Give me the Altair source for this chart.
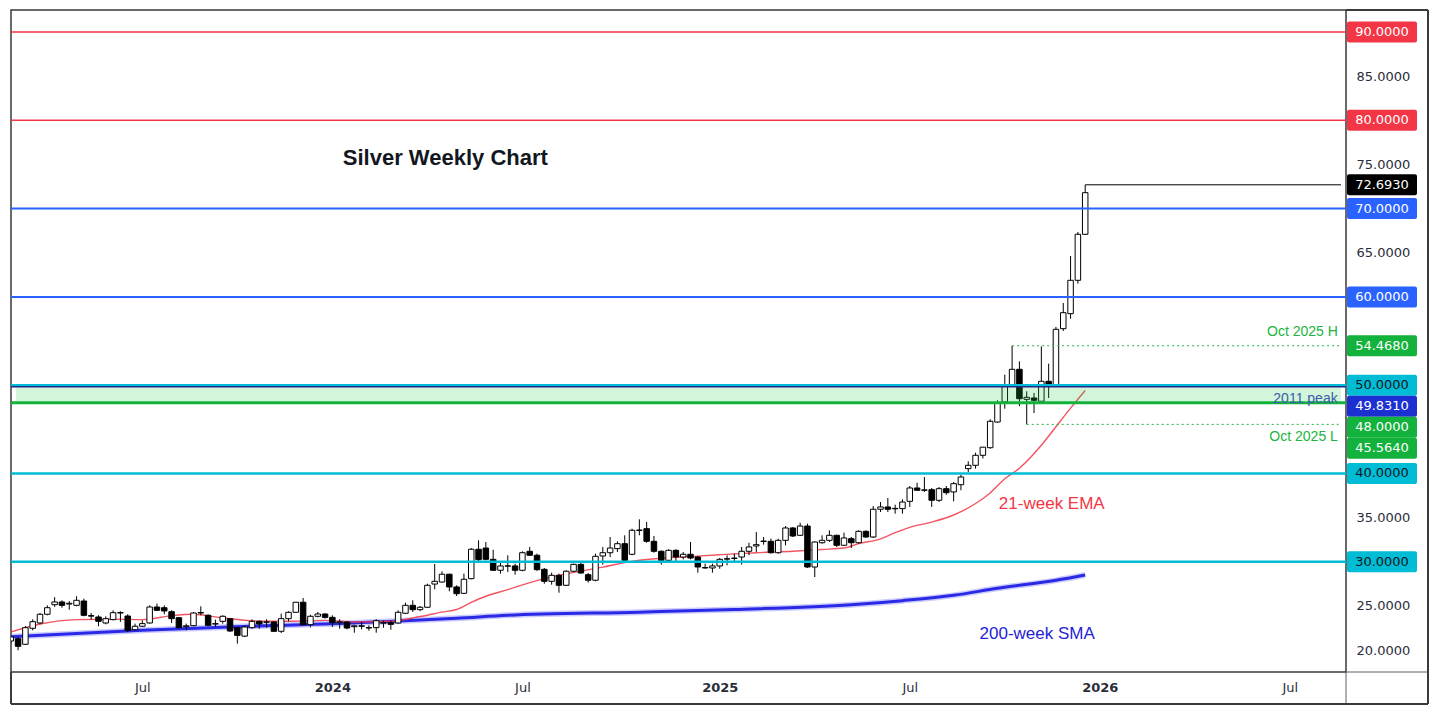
import altair as alt
import pandas as pd
from datetime import date, timedelta

# ---------------- data ----------------
FIRST_WEEK = date(2023, 2, 27)   # weekly candles, one per Monday
X_START = "2023-03-04T00:00:00"
X_END = "2026-08-24T00:00:00"
Y_MIN, Y_MAX = 17.52, 92.49

opens = [21.03, 21.29, 20.66, 22.47, 23.07, 24.06, 25.14, 25.45, 25.22, 25.07,
         25.56, 23.90, 23.75, 23.07, 23.45, 24.20, 23.86, 22.31, 22.70, 23.07,
         24.88, 24.80, 24.35, 23.67, 22.65, 22.77, 24.20, 23.94, 22.95, 23.26,
         23.56, 22.54, 21.58, 22.54, 23.26, 23.15, 23.18, 22.13, 23.56, 24.28,
         25.42, 22.88, 23.83, 24.09, 23.71, 23.10, 23.18, 22.65, 22.75, 22.50,
         22.54, 23.05, 23.10, 23.07, 24.17, 25.07, 24.58, 24.85, 27.48, 27.71,
         28.59, 27.15, 26.43, 28.09, 31.42, 31.56, 30.28, 29.04, 29.50, 29.53,
         29.04, 31.19, 30.74, 29.15, 27.79, 28.47, 27.34, 28.93, 29.71, 28.54,
         27.91, 30.66, 31.03, 31.49, 32.05, 30.85, 33.55, 33.75, 32.32, 31.19,
         30.17, 31.30, 30.54, 30.85, 30.54, 29.30, 29.30, 29.53, 30.30, 30.38,
         30.54, 31.19, 31.79, 32.30, 32.32, 31.03, 32.43, 33.83, 33.00, 34.05,
         29.41, 32.16, 32.43, 33.00, 31.87, 32.62, 32.16, 33.45, 32.81, 35.95,
         36.21, 36.00, 36.02, 36.85, 38.36, 38.10, 38.17, 36.97, 38.28, 37.91,
         38.73, 40.55, 40.93, 42.06, 42.92, 45.83, 48.10, 50.06, 51.80, 48.40,
         48.55, 48.18, 50.44, 50.00, 56.40, 58.10, 61.88, 67.09]
highs = [21.70, 21.48, 22.73, 23.49, 24.20, 25.07, 26.00, 25.64, 25.56, 26.10,
         25.82, 24.20, 23.94, 23.83, 24.51, 24.40, 24.06, 23.00, 23.37, 25.07,
         25.26, 25.07, 24.51, 23.75, 23.00, 24.32, 24.96, 24.06, 23.45, 23.94,
         23.64, 22.62, 22.73, 23.49, 23.37, 23.49, 23.26, 24.13, 24.40, 25.45,
         25.90, 24.01, 24.32, 24.17, 23.94, 23.49, 23.26, 22.88, 23.18, 22.81,
         23.49, 23.33, 23.33, 24.51, 25.37, 25.64, 25.00, 27.52, 29.75, 28.92,
         28.66, 27.34, 28.66, 31.56, 32.43, 32.24, 31.37, 30.06, 30.74, 29.79,
         31.19, 31.68, 30.92, 29.30, 28.77, 28.66, 29.04, 29.79, 29.86, 28.73,
         30.92, 31.68, 32.81, 32.32, 33.00, 33.75, 34.81, 34.51, 32.92, 31.30,
         31.42, 31.42, 31.11, 32.24, 30.66, 29.79, 29.79, 30.43, 30.74, 30.92,
         31.68, 32.16, 33.38, 32.81, 32.62, 32.62, 34.05, 33.94, 34.43, 34.32,
         32.32, 33.00, 33.57, 33.07, 33.30, 32.81, 33.57, 33.57, 36.32, 36.77,
         37.23, 36.47, 37.08, 38.58, 38.96, 39.60, 38.36, 38.47, 38.58, 39.04,
         39.86, 41.38, 42.36, 43.00, 46.14, 48.29, 51.19, 54.468, 52.70, 49.31,
         49.12, 54.40, 52.44, 56.60, 59.31, 64.63, 67.35, 72.693]
lows = [20.80, 19.98, 20.58, 22.24, 22.92, 23.94, 24.90, 24.80, 24.58, 24.96,
        23.83, 23.45, 22.70, 22.92, 23.37, 23.20, 22.05, 22.24, 22.62, 23.00,
        24.43, 24.06, 23.07, 22.47, 22.24, 22.70, 23.94, 22.70, 22.62, 23.00,
        22.05, 20.73, 21.48, 22.43, 22.43, 22.54, 22.05, 21.94, 23.26, 24.24,
        22.81, 22.58, 23.71, 23.56, 22.62, 22.43, 22.35, 21.97, 22.35, 22.20,
        21.97, 22.54, 22.31, 23.00, 24.09, 24.32, 24.40, 24.77, 26.88, 27.64,
        26.66, 26.13, 26.35, 28.02, 30.06, 30.17, 28.96, 28.66, 28.84, 28.54,
        28.93, 30.66, 28.96, 27.52, 27.41, 26.50, 27.26, 28.84, 28.66, 27.64,
        27.79, 29.68, 30.54, 31.11, 29.90, 30.74, 33.00, 32.16, 31.03, 29.68,
        30.06, 30.06, 30.28, 30.28, 28.77, 29.22, 28.77, 29.22, 29.60, 29.98,
        29.68, 30.74, 31.11, 31.94, 30.92, 30.92, 31.87, 32.81, 32.92, 29.30,
        28.28, 32.05, 32.24, 31.68, 31.79, 31.56, 32.05, 32.70, 32.70, 35.64,
        35.64, 35.45, 35.45, 36.21, 38.10, 37.91, 36.21, 36.77, 37.60, 36.85,
        38.10, 40.17, 40.55, 41.70, 42.81, 45.75, 47.34, 49.90, 47.64, 45.564,
        46.85, 48.10, 48.55, 49.90, 56.14, 57.53, 61.50, 67.00]
closes = [21.49, 20.43, 22.54, 23.22, 24.06, 24.80, 25.45, 25.07, 25.30, 25.64,
          23.94, 23.85, 23.26, 23.56, 24.24, 24.25, 22.24, 22.70, 23.00, 24.88,
          24.51, 24.43, 23.56, 22.54, 22.75, 24.20, 24.25, 22.81, 23.00, 23.83,
          22.16, 21.67, 22.62, 23.26, 22.96, 23.20, 22.13, 23.56, 24.28, 25.42,
          22.88, 23.83, 24.09, 23.71, 23.10, 23.20, 22.50, 22.75, 22.70, 22.55,
          23.33, 23.10, 22.92, 24.28, 25.07, 24.58, 24.85, 27.34, 27.79, 28.59,
          27.15, 26.39, 28.02, 31.42, 30.24, 30.28, 29.04, 29.53, 29.55, 29.04,
          31.03, 30.74, 29.11, 27.79, 28.47, 27.34, 28.93, 29.71, 28.73, 27.91,
          30.62, 31.03, 31.56, 32.05, 30.17, 33.57, 33.60, 32.32, 31.19, 30.17,
          31.30, 30.54, 30.85, 30.43, 29.41, 29.35, 29.53, 30.28, 30.35, 30.42,
          31.19, 31.68, 31.94, 32.35, 31.03, 32.43, 33.83, 32.92, 34.05, 29.41,
          32.24, 32.43, 33.00, 31.87, 32.70, 32.16, 33.45, 32.81, 35.95, 36.21,
          35.95, 36.05, 36.77, 38.36, 38.10, 38.15, 36.97, 38.28, 37.83, 38.85,
          39.60, 40.93, 42.06, 42.98, 45.91, 47.98, 50.06, 51.80, 48.47, 48.63,
          48.29, 50.44, 49.99, 56.33, 58.21, 61.88, 67.09, 71.80]

# 21-week EMA, read at these candle numbers
ema_week = [0, 4, 9, 14, 18, 22, 25, 29, 34, 38, 43, 47, 52, 56, 59, 61, 63, 65,
            68, 71, 74, 78, 81, 85, 89, 93, 97, 102, 107, 111, 114, 116, 119,
            121, 123, 126, 129, 132, 134, 136, 138, 141, 143, 145, 147]
ema_value = [22.05, 22.95, 23.45, 23.50, 23.45, 23.90, 24.06, 23.64, 23.28, 23.26,
             23.37, 23.18, 23.27, 23.80, 24.30, 24.60, 25.40, 26.10, 26.85, 27.65,
             28.30, 28.95, 29.40, 30.05, 30.40, 30.60, 30.80, 31.03, 31.20, 31.40,
             31.56, 32.05, 32.60, 33.30, 33.90, 34.50, 35.30, 36.60, 37.80, 39.40,
             40.60, 43.20, 45.30, 47.40, 49.40]
# 200-week SMA, read at these candle numbers
sma_week = [0, 18, 36, 45, 50, 61, 68, 86, 99, 115, 122, 129, 135, 143, 147]
sma_value = [21.50, 22.24, 22.80, 23.00, 23.18, 23.60, 23.94, 24.30, 24.60, 25.14,
             25.60, 26.20, 27.00, 27.90, 28.50]

# horizontal levels
level_values = [90, 80, 70, 60, 50, 49.831, 48, 40, 30]
zone_low, zone_high = 48, 49.831
oct_high, oct_high_week = 54.468, 137
oct_low, oct_low_week = 45.564, 139
last_high, last_week = 72.693, 147

# right-axis price labels
tag_values = [90, 80, 72.693, 70, 60, 54.468, 50, 49.831, 48, 45.564, 40, 30]

# text annotations
note_text = ["Silver Weekly Chart", "21-week EMA", "200-week SMA",
             "Oct 2025 H", "Oct 2025 L", "2011 peak"]
note_date = ["2024-01-11", "2025-11-20", "2025-11-06",
             "2026-08-21", "2026-08-21", "2026-07-21"]
note_price = [75.73, 36.55, 21.82, 56.03, 44.13, 48.44]

# ---------------- styles ----------------
W, H = 1335, 662
STRIP, BOTTOM = 82, 32
RED, BLUE, CYAN, GREEN, NAVY = "#f23645", "#2962ff", "#00bcd4", "#12b23c", "#1c2fd1"
level_color = {90: RED, 80: RED, 70: BLUE, 60: BLUE, 50: CYAN, 49.831: "#1f2a8a",
               48: GREEN, 40: CYAN, 30: CYAN}
level_width = {90: 1.5, 80: 1.5, 70: 2, 60: 2, 50: 2.5, 49.831: 1.5, 48: 3, 40: 2.5, 30: 2.5}
tag_bg = {90: RED, 80: RED, 72.693: "#000000", 70: BLUE, 60: BLUE, 54.468: GREEN,
          50: CYAN, 49.831: NAVY, 48: GREEN, 45.564: GREEN, 40: CYAN, 30: CYAN}
tag_fg = {v: ("#131722" if tag_bg[v] == CYAN else "#ffffff") for v in tag_values}
note_color = ["#131722", RED, "#2323d8", "#20b540", "#20b540", "#3b5cad"]
note_size = [22, 17, 17, 14, 14, 14]
note_weight = ["bold", "normal", "normal", "normal", "normal", "normal"]
note_align = ["left", "center", "center", "right", "right", "center"]


def week(i):
    return (FIRST_WEEK + timedelta(weeks=i)).strftime("%Y-%m-%dT00:00:00")


candles = pd.DataFrame({
    "date": [week(i) for i in range(len(opens))],
    "open": opens, "high": highs, "low": lows, "close": closes,
})
candles["top"] = candles[["open", "close"]].max(axis=1)
candles["bot"] = candles[["open", "close"]].min(axis=1)
candles["up"] = candles["close"] >= candles["open"]

ema = pd.DataFrame({"date": [week(i) for i in ema_week], "v": ema_value})
sma = pd.DataFrame({"date": [week(i) for i in sma_week], "v": sma_value})

levels = pd.DataFrame({"v": level_values,
                       "c": [level_color[v] for v in level_values],
                       "w": [level_width[v] for v in level_values]})

# de-overlap right-axis tags the way the terminal stacks them
px_per_unit = H / (Y_MAX - Y_MIN)
gap = 21 / px_per_unit
shown = []
for v in sorted(tag_values, reverse=True):
    pos = v if not shown else min(v, shown[-1] - gap)
    shown.append(pos)
tags = pd.DataFrame({"v": sorted(tag_values, reverse=True), "pos": shown})
tags["bg"] = tags["v"].map(tag_bg)
tags["fg"] = tags["v"].map(tag_fg)

notes = pd.DataFrame({"t": note_text, "date": [d + "T00:00:00" for d in note_date],
                      "p": note_price})

# ---------------- scales / axes ----------------
xs = alt.Scale(domain=[X_START, X_END])
ys = alt.Scale(domain=[Y_MIN, Y_MAX], nice=False, zero=False)

x_axis = alt.Axis(
    values=[alt.DateTime(year=2023, month="jul", date=3),
            alt.DateTime(year=2024, month="jan", date=1),
            alt.DateTime(year=2024, month="jul", date=1),
            alt.DateTime(year=2025, month="jan", date=6),
            alt.DateTime(year=2025, month="jul", date=7),
            alt.DateTime(year=2026, month="jan", date=5),
            alt.DateTime(year=2026, month="jul", date=6)],
    labelExpr="month(datum.value) == 6 ? 'Jul' : timeFormat(datum.value, '%Y')",
    labelFontWeight={"condition": {"test": "month(datum.value) != 6", "value": "bold"},
                     "value": "normal"},
    labelFont="DejaVu Sans", labelFontSize=13, labelColor="#2a2e39",
    ticks=False, domain=False, grid=False, labelPadding=9, title=None,
    labelOverlap=False, labelFlush=False,
)
y_axis = alt.Axis(
    orient="right", values=[20, 25, 35, 65, 75, 85], format=".4f",
    labelFont="DejaVu Sans", labelFontSize=13, labelColor="#2a2e39",
    ticks=False, domain=False, grid=False, labelPadding=10, title=None,
)


def X(field, axis=True):
    return alt.X(field, type="temporal", scale=xs, axis=x_axis if axis else None)


def Y(field, axis=True):
    return alt.Y(field, type="quantitative", scale=ys, axis=y_axis if axis else None)


# ---------------- layers ----------------
wicks = alt.Chart(candles).mark_rule(color="#000000", strokeWidth=1, clip=True).encode(
    x=X("date"), y=Y("low"), y2="high")

bodies = alt.Chart(candles).mark_bar(size=5.5, stroke="#000000", strokeWidth=1,
                                     clip=True).encode(
    x=X("date"), y=Y("bot"), y2="top",
    fill=alt.condition("datum.up", alt.value("#ffffff"), alt.value("#000000")))

sma_halo = alt.Chart(sma).mark_line(interpolate="monotone", color="#6b6bff", clip=True,
                                    strokeWidth=6, opacity=0.35).encode(x=X("date"), y=Y("v"))
sma_line = alt.Chart(sma).mark_line(interpolate="monotone", color="#2a2ae6", clip=True,
                                    strokeWidth=3).encode(x=X("date"), y=Y("v"))
ema_line = alt.Chart(ema).mark_line(interpolate="monotone", color=RED, clip=True,
                                    strokeWidth=1.4, opacity=0.85).encode(x=X("date"), y=Y("v"))

zone = alt.Chart(pd.DataFrame({"a": [X_START], "b": [X_END], "lo": [zone_low], "hi": [zone_high]})
                 ).mark_rect(color="#22cc44", opacity=0.2).encode(
    x=X("a"), x2="b", y=Y("lo"), y2="hi")

level_rules = alt.Chart(levels).mark_rule().encode(
    y=Y("v"), color=alt.Color("c:N", scale=None), size=alt.Size("w:Q", scale=None))

dotted = alt.Chart(pd.DataFrame({
    "a": [week(oct_high_week), week(oct_low_week)], "b": [X_END, X_END],
    "v": [oct_high, oct_low]})).mark_rule(color="#20b540", strokeWidth=1,
                                          strokeDash=[2, 3]).encode(x=X("a"), x2="b", y=Y("v"))

last_line = alt.Chart(pd.DataFrame({"a": [week(last_week)], "b": [X_END], "v": [last_high]})
                      ).mark_rule(color="#000000", strokeWidth=1).encode(x=X("a"), x2="b", y=Y("v"))

note_layers = []
for i in range(len(note_text)):
    note_layers.append(
        alt.Chart(notes.iloc[[i]]).mark_text(
            font="Liberation Sans", fontSize=note_size[i], fontWeight=note_weight[i],
            color=note_color[i], align=note_align[i], baseline="middle"
        ).encode(x=X("date"), y=Y("p"), text="t:N"))

tag_box = alt.Chart(tags).mark_tick(orient="horizontal", size=70, thickness=21,
                                    cornerRadius=2, opacity=1).encode(
    x=alt.value(W + 36), y=Y("pos"), color=alt.Color("bg:N", scale=None))
tag_txt = alt.Chart(tags).mark_text(font="DejaVu Sans", fontSize=13, align="center",
                                    baseline="middle").encode(
    x=alt.value(W + 36), y=Y("pos"), text=alt.Text("v:Q", format=".4f"),
    color=alt.Color("fg:N", scale=None))

one = pd.DataFrame({"k": [0]})
frame_grey = "#5d606b"
frame = [
    alt.Chart(one).mark_rule(color=frame_grey, strokeWidth=1).encode(
        x=alt.value(W), y=alt.value(H), y2=alt.value(H + BOTTOM)),
    alt.Chart(one).mark_rule(color=frame_grey, strokeWidth=1).encode(
        x=alt.value(W), x2=alt.value(W + STRIP), y=alt.value(H)),
    alt.Chart(one).mark_rule(color="#3a3a3a", strokeWidth=2).encode(
        x=alt.value(W), x2=alt.value(W + STRIP), y=alt.value(0)),
    alt.Chart(one).mark_rule(color="#3a3a3a", strokeWidth=2).encode(
        x=alt.value(W + STRIP), y=alt.value(0), y2=alt.value(H + BOTTOM)),
    alt.Chart(one).mark_rule(color="#3a3a3a", strokeWidth=2).encode(
        x=alt.value(0), x2=alt.value(W + STRIP), y=alt.value(H + BOTTOM)),
    alt.Chart(one).mark_rule(color="#3a3a3a", strokeWidth=2).encode(
        x=alt.value(0), y=alt.value(H), y2=alt.value(H + BOTTOM)),
]

chart = alt.layer(
    sma_halo, sma_line, ema_line, wicks, bodies, zone, level_rules, dotted, last_line,
    *note_layers, tag_box, tag_txt, *frame
).properties(
    width=W, height=H, padding={"left": 1, "top": 1, "right": 1, "bottom": 1},
    background="#ffffff"
).configure_view(stroke="#3a3a3a", strokeWidth=1.5)

chart.save("out.html", embed_options={"renderer": "svg", "actions": False})
